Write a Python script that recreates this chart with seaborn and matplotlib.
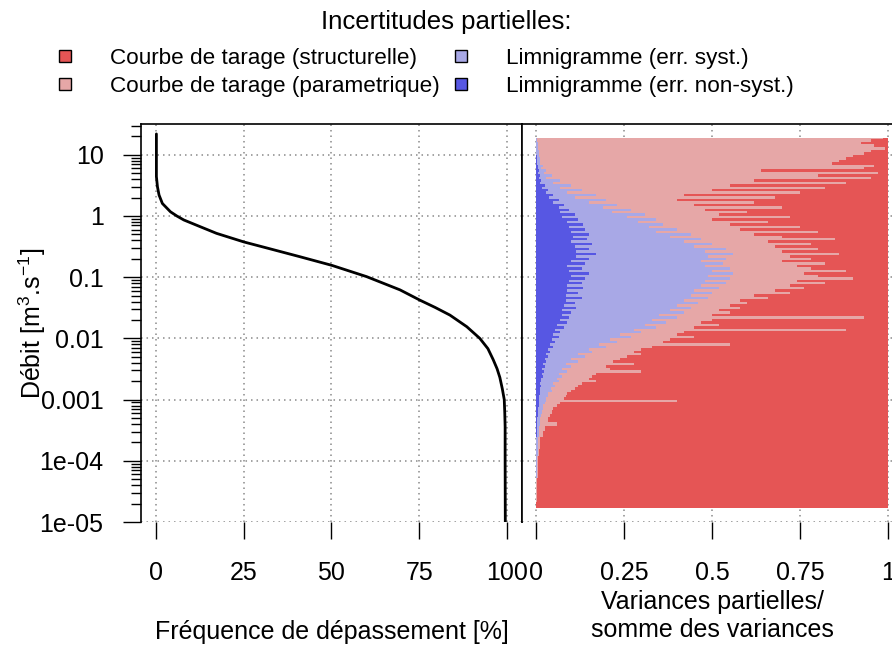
import numpy as np
import pandas as pd
import matplotlib
matplotlib.use("Agg")
import matplotlib.pyplot as plt
import seaborn as sns
from matplotlib.ticker import FixedLocator, FixedFormatter, LogLocator, NullFormatter
from matplotlib.lines import Line2D

# flow duration curve
freq_pct = [0.2, 0.2, 0.5, 0.95, 1.9, 4.2, 6.0, 8.0, 12.6, 17.3, 25.1, 31.6, 41.0, 50.1,
            60.0, 69.5, 75.2, 79.5, 83.7, 88.5, 92.2, 94.5, 96.0, 97.1, 97.9, 98.6,
            99.15, 99.3, 99.4, 99.4, 99.45]
debit = [21.9, 4.4, 3.0, 2.2, 1.6, 1.17, 1.0, 0.86, 0.67, 0.52, 0.376, 0.30, 0.216, 0.156,
         0.102, 0.062, 0.042, 0.032, 0.024, 0.0155, 0.010, 0.0068, 0.0045, 0.0032, 0.0023,
         0.0015, 0.001, 6e-4, 3.6e-4, 1e-4, 1e-5]

# partial variances: log10(Q) levels and cumulative shares
# (non-syst. limnigramme, + syst. limnigramme, + parametric rating curve; rest = structural)
log_q = [1.27, 1.23, 1.19, 1.15, 1.10, 1.06, 1.02, 0.98, 0.94, 0.90, 0.86, 0.82, 0.78, 0.74,
         0.70, 0.66, 0.62, 0.58, 0.54, 0.50, 0.46, 0.42, 0.38, 0.34, 0.30, 0.26, 0.22, 0.18,
         0.14, 0.10, 0.06, 0.02, -0.02, -0.06, -0.10, -0.14, -0.18, -0.22, -0.26, -0.30,
         -0.34, -0.38, -0.42, -0.46, -0.50, -0.54, -0.58, -0.62, -0.66, -0.70, -0.74, -0.78,
         -0.82, -0.86, -0.90, -0.94, -0.98, -1.02, -1.06, -1.10, -1.14, -1.18, -1.22, -1.26,
         -1.30, -1.34, -1.38, -1.42, -1.46, -1.50, -1.54, -1.58, -1.62, -1.66, -1.70, -1.74,
         -1.78, -1.82, -1.86, -1.90, -1.94, -1.98, -2.02, -2.06, -2.10, -2.14, -2.18, -2.22,
         -2.26, -2.30, -2.34, -2.38, -2.42, -2.46, -2.50, -2.54, -2.58, -2.62, -2.66, -2.70,
         -2.74, -2.78, -2.82, -2.86, -2.90, -2.94, -2.98, -3.02, -3.06, -3.10, -3.14, -3.20,
         -3.26, -3.32, -3.40, -3.48, -3.56, -3.66, -3.76, -3.86, -4.0, -4.2, -4.4, -4.6, -4.77]
cum_nonsyst = [0.000, 0.001, 0.001, 0.001, 0.001, 0.002, 0.002, 0.003, 0.003, 0.003, 0.004,
               0.006, 0.005, 0.008, 0.007, 0.012, 0.009, 0.016, 0.012, 0.025, 0.018, 0.035,
               0.028, 0.050, 0.037, 0.065, 0.050, 0.080, 0.066, 0.095, 0.070, 0.110, 0.075,
               0.120, 0.090, 0.135, 0.095, 0.140, 0.100, 0.150, 0.105, 0.145, 0.100, 0.160,
               0.110, 0.150, 0.115, 0.170, 0.115, 0.150, 0.100, 0.140, 0.090, 0.130, 0.095,
               0.150, 0.100, 0.140, 0.095, 0.130, 0.090, 0.135, 0.090, 0.120, 0.085, 0.130,
               0.085, 0.110, 0.080, 0.115, 0.075, 0.100, 0.075, 0.095, 0.070, 0.090, 0.060,
               0.080, 0.055, 0.070, 0.050, 0.065, 0.045, 0.055, 0.040, 0.050, 0.035, 0.040,
               0.030, 0.035, 0.025, 0.030, 0.020, 0.026, 0.018, 0.024, 0.017, 0.020, 0.015,
               0.016, 0.013, 0.014, 0.012, 0.012, 0.011, 0.010, 0.009, 0.009, 0.008, 0.008,
               0.007, 0.006, 0.005, 0.004, 0.004, 0.003, 0.003, 0.002, 0.002, 0.001, 0.001,
               0.001, 0.0005, 0.0005, 0.0005]
cum_syst = [0.003, 0.004, 0.005, 0.006, 0.007, 0.008, 0.009, 0.010, 0.011, 0.012, 0.013,
            0.020, 0.015, 0.030, 0.023, 0.045, 0.030, 0.070, 0.050, 0.100, 0.070, 0.130,
            0.090, 0.170, 0.110, 0.200, 0.150, 0.230, 0.190, 0.270, 0.215, 0.310, 0.260,
            0.340, 0.290, 0.360, 0.320, 0.400, 0.340, 0.440, 0.380, 0.470, 0.420, 0.500,
            0.450, 0.540, 0.480, 0.560, 0.490, 0.540, 0.470, 0.530, 0.480, 0.550, 0.500,
            0.560, 0.490, 0.550, 0.480, 0.540, 0.470, 0.520, 0.450, 0.500, 0.440, 0.490,
            0.420, 0.460, 0.400, 0.440, 0.380, 0.420, 0.350, 0.400, 0.330, 0.370, 0.310,
            0.340, 0.280, 0.300, 0.240, 0.270, 0.210, 0.230, 0.180, 0.200, 0.150, 0.160,
            0.120, 0.140, 0.100, 0.120, 0.085, 0.100, 0.075, 0.090, 0.066, 0.075, 0.060,
            0.065, 0.050, 0.055, 0.044, 0.045, 0.036, 0.034, 0.030, 0.028, 0.025, 0.022,
            0.020, 0.018, 0.016, 0.013, 0.012, 0.010, 0.009, 0.007, 0.006, 0.005, 0.004,
            0.003, 0.002, 0.0015, 0.001]
cum_param = [0.985, 0.950, 0.923, 0.960, 0.990, 0.950, 0.930, 0.900, 0.880, 0.860, 0.840,
             0.960, 0.930, 0.640, 0.970, 0.800, 0.950, 0.620, 0.880, 0.550, 0.820, 0.500,
             0.750, 0.420, 0.680, 0.400, 0.620, 0.450, 0.700, 0.480, 0.600, 0.520, 0.720,
             0.500, 0.660, 0.550, 0.750, 0.580, 0.800, 0.620, 0.700, 0.850, 0.660, 0.780,
             0.680, 0.800, 0.700, 0.860, 0.720, 0.780, 0.700, 0.820, 0.740, 0.780, 0.880,
             0.760, 0.800, 0.900, 0.740, 0.820, 0.720, 0.760, 0.680, 0.720, 0.620, 0.660,
             0.580, 0.600, 0.550, 0.580, 0.520, 0.550, 0.500, 0.930, 0.500, 0.470, 0.520,
             0.450, 0.880, 0.420, 0.400, 0.450, 0.380, 0.360, 0.550, 0.330, 0.300, 0.280,
             0.300, 0.260, 0.240, 0.220, 0.280, 0.200, 0.210, 0.300, 0.170, 0.160, 0.150,
             0.170, 0.130, 0.120, 0.110, 0.100, 0.090, 0.085, 0.080, 0.400, 0.070, 0.060,
             0.050, 0.045, 0.040, 0.035, 0.060, 0.025, 0.020, 0.013, 0.011, 0.009, 0.007,
             0.005, 0.003, 0.0025, 0.002]

labels = ["Courbe de tarage (structurelle)", "Courbe de tarage (parametrique)",
          "Limnigramme (err. syst.)", "Limnigramme (err. non-syst.)"]
colors = ["#E55555", "#E6A7A7", "#A8A8E6", "#5757E3"]

sns.set_theme(style="white")
plt.rcParams["font.family"] = ["Liberation Sans", "DejaVu Sans"]
plt.rcParams["mathtext.default"] = "regular"
for key in ("text.color", "axes.labelcolor", "xtick.color", "ytick.color"):
    plt.rcParams[key] = "black"

fig = plt.figure(figsize=(8.92, 6.46), dpi=100)
W, H = 892, 646
ax1 = fig.add_axes([141 / W, 1 - 522 / H, 381 / W, 398 / H])
ax2 = fig.add_axes([522 / W, 1 - 522 / H, 381 / W, 398 / H])

grid_kw = dict(color="#8a8a8a", linewidth=1.1, dashes=(1, 2.6))
yticks = [10, 1, 0.1, 0.01, 0.001, 1e-4, 1e-5]
ylabels = ["10", "1", "0.1", "0.01", "0.001", "1e-04", "1e-05"]

df_fdc = pd.DataFrame({"freq": freq_pct, "q": debit})
sns.lineplot(data=df_fdc, x="freq", y="q", ax=ax1, color="black", linewidth=2,
             estimator=None, sort=False)

q = 10 ** np.array(log_q)
b1, b2, b3 = np.array(cum_nonsyst), np.array(cum_syst), np.array(cum_param)
ax2.fill_betweenx(q, b3, 1, color=colors[0], step="mid", lw=0)
ax2.fill_betweenx(q, b2, b3, color=colors[1], step="mid", lw=0)
ax2.fill_betweenx(q, b1, b2, color=colors[2], step="mid", lw=0)
ax2.fill_betweenx(q, 0, b1, color=colors[3], step="mid", lw=0)

for ax in (ax1, ax2):
    ax.set_yscale("log")
    ax.set_ylim(1e-5, 31.8)
    ax.yaxis.set_major_locator(FixedLocator(yticks))
    ax.yaxis.set_minor_locator(LogLocator(base=10, subs=np.arange(2, 10)))
    ax.yaxis.set_minor_formatter(NullFormatter())
    ax.set_axisbelow(True)
    ax.grid(True, which="major", **grid_kw)
    ax.grid(False, which="minor")
    for s in ("left", "right", "top"):
        ax.spines[s].set_color("black")
        ax.spines[s].set_linewidth(1.2)
    ax.spines["bottom"].set_visible(False)
    ax.tick_params(axis="x", direction="out", length=12, width=1, color="black",
                   pad=16, labelsize=18, bottom=True)
    ax.set_xlabel("")
    ax.set_ylabel("")

ax1.set_xlim(-4.18, 104.2)
ax1.set_xticks([0, 25, 50, 75, 100])
ax1.set_xticklabels(["0", "25", "50", "75", "100"])
ax1.yaxis.set_major_formatter(FixedFormatter(ylabels))
ax1.tick_params(axis="y", which="major", direction="out", length=13, width=1,
                color="black", pad=14, labelsize=18, left=True)
ax1.tick_params(axis="y", which="minor", direction="out", length=7, width=1,
                color="black", left=True)

ax2.set_xlim(-0.039, 1.042)
ax2.set_xticks([0, 0.25, 0.5, 0.75, 1])
ax2.set_xticklabels(["0", "0.25", "0.5", "0.75", "1"])
ax2.tick_params(axis="y", which="both", length=0, labelleft=False, left=False)

ax1.set_ylabel("Débit [m$^3$.s$^{-1}$]", fontsize=18)
ax1.yaxis.set_label_coords(-0.243, 0.5)
ax1.set_xlabel("Fréquence de dépassement [%]", fontsize=18)
ax1.xaxis.set_label_coords(0.5, -0.245)
ax2.set_xlabel("Variances partielles/\nsomme des variances", fontsize=18, linespacing=1.2)
ax2.xaxis.set_label_coords(0.5, -0.172)

fig.text(446 / W, 1 - 22 / H, "Incertitudes partielles:", ha="center", va="center",
         fontsize=18.5)
handles = [Line2D([], [], marker="s", linestyle="none", markersize=9,
                  markerfacecolor=c, markeredgecolor="black", markeredgewidth=1)
           for c in colors]
leg = fig.legend(handles=handles, labels=labels, ncol=2, frameon=False, fontsize=16.2,
                 loc="upper left", bbox_to_anchor=(54 / W, 1 - 48 / H),
                 borderpad=0, borderaxespad=0, handlelength=1.0, handletextpad=1.5,
                 columnspacing=0.45, labelspacing=0.3)

fig.savefig("out.png", dpi=100)
